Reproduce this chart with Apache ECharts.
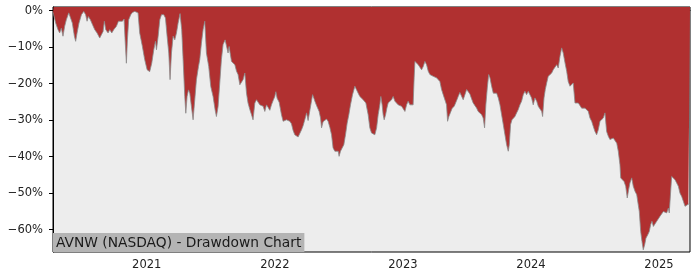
<!DOCTYPE html>
<html>
<head>
<meta charset="utf-8">
<script src="https://cdn.jsdelivr.net/npm/echarts@6/dist/echarts.min.js"></script>
<style>
html,body{margin:0;padding:0;background:#fff;}
#chart{width:700px;height:280px;}
</style>
</head>
<body>
<div id="chart"></div>
<script>
// Time of each point, as decimal years
const dates = [
2020.268,2020.273,2020.289,2020.307,2020.320,2020.333,2020.346,2020.359,2020.372,2020.391,
2020.404,2020.419,2020.435,2020.445,2020.456,2020.471,2020.490,2020.508,2020.523,2020.534,
2020.544,2020.560,2020.576,2020.594,2020.612,2020.633,2020.646,2020.659,2020.669,2020.680,
2020.698,2020.711,2020.727,2020.742,2020.763,2020.779,2020.794,2020.810,2020.823,2020.831,
2020.841,2020.849,2020.859,2020.875,2020.888,2020.906,2020.919,2020.932,2020.945,2020.966,
2020.984,2021.003,2021.023,2021.039,2021.055,2021.068,2021.076,2021.089,2021.102,2021.115,
2021.133,2021.146,2021.159,2021.172,2021.182,2021.193,2021.206,2021.219,2021.232,2021.245,
2021.260,2021.273,2021.284,2021.297,2021.305,2021.315,2021.326,2021.336,2021.349,2021.362,
2021.375,2021.388,2021.404,2021.414,2021.427,2021.440,2021.453,2021.466,2021.484,2021.500,
2021.518,2021.534,2021.544,2021.557,2021.570,2021.583,2021.596,2021.612,2021.622,2021.635,
2021.643,2021.662,2021.688,2021.701,2021.713,2021.727,2021.740,2021.752,2021.766,2021.779,
2021.791,2021.805,2021.818,2021.830,2021.844,2021.857,2021.870,2021.883,2021.909,2021.922,
2021.935,2021.948,2021.961,2021.974,2021.987,2022.000,2022.008,2022.018,2022.034,2022.052,
2022.065,2022.078,2022.091,2022.104,2022.117,2022.130,2022.143,2022.156,2022.170,2022.182,
2022.195,2022.209,2022.221,2022.234,2022.248,2022.260,2022.273,2022.287,2022.295,2022.305,
2022.313,2022.326,2022.338,2022.346,2022.357,2022.365,2022.377,2022.391,2022.404,2022.416,
2022.430,2022.443,2022.455,2022.469,2022.482,2022.495,2022.502,2022.513,2022.526,2022.539,
2022.552,2022.565,2022.578,2022.591,2022.607,2022.625,2022.638,2022.651,2022.664,2022.690,
2022.711,2022.729,2022.742,2022.755,2022.768,2022.781,2022.795,2022.807,2022.820,2022.828,
2022.838,2022.846,2022.854,2022.865,2022.875,2022.885,2022.898,2022.912,2022.924,2022.938,
2022.951,2022.963,2022.977,2022.990,2023.002,2023.016,2023.029,2023.041,2023.055,2023.068,
2023.080,2023.088,2023.094,2023.107,2023.120,2023.133,2023.146,2023.159,2023.172,2023.185,
2023.198,2023.211,2023.224,2023.237,2023.250,2023.263,2023.276,2023.289,2023.302,2023.315,
2023.328,2023.341,2023.349,2023.359,2023.375,2023.385,2023.401,2023.412,2023.422,2023.432,
2023.445,2023.459,2023.471,2023.484,2023.498,2023.510,2023.523,2023.537,2023.549,2023.563,
2023.576,2023.588,2023.602,2023.615,2023.627,2023.638,2023.648,2023.659,2023.670,2023.680,
2023.693,2023.706,2023.719,2023.732,2023.745,2023.758,2023.771,2023.784,2023.797,2023.810,
2023.823,2023.831,2023.841,2023.852,2023.862,2023.875,2023.888,2023.901,2023.914,2023.927,
2023.940,2023.953,2023.966,2023.979,2023.992,2024.005,2024.018,2024.031,2024.045,2024.057,
2024.070,2024.084,2024.091,2024.102,2024.112,2024.123,2024.135,2024.148,2024.162,2024.174,
2024.188,2024.201,2024.213,2024.227,2024.240,2024.252,2024.266,2024.279,2024.291,2024.305,
2024.318,2024.330,2024.344,2024.357,2024.370,2024.383,2024.396,2024.409,2024.422,2024.435,
2024.448,2024.461,2024.474,2024.487,2024.500,2024.513,2024.526,2024.539,2024.552,2024.565,
2024.578,2024.591,2024.604,2024.617,2024.630,2024.643,2024.656,2024.670,2024.682,2024.695,
2024.701,2024.713,2024.727,2024.740,2024.752,2024.763,2024.773,2024.787,2024.799,2024.813,
2024.826,2024.838,2024.846,2024.857,2024.867,2024.877,2024.888,2024.898,2024.912,2024.924,
2024.935,2024.945,2024.956,2024.969,2024.982,2024.995,2025.008,2025.021,2025.034,2025.047,
2025.060,2025.073,2025.080,2025.091,2025.099,2025.112,2025.125,2025.138,2025.151,2025.164,
2025.177,2025.190,2025.203,2025.216,2025.229,2025.242
];
// Drawdown in percent
const drawdown = [
-0.5,-1.1,-3.4,-5.2,-6.1,-4.8,-7.0,-4.3,-2.5,-0.6,
-0.2,-3.4,-7.0,-8.4,-6.1,-3.4,-1.1,-0.2,-1.1,-2.9,
-1.6,-2.5,-3.8,-5.2,-6.1,-7.5,-8.0,-5.7,-2.9,-5.2,
-6.1,-5.2,-6.1,-5.2,-4.3,-2.9,-2.5,-2.9,-2.3,-8.0,
-14.4,-8.0,-2.5,-1.1,-0.5,-0.2,-0.6,-0.6,-6.1,-9.8,
-13.4,-16.2,-16.7,-14.4,-10.7,-8.4,-10.7,-7.0,-2.5,-1.1,
-1.1,-2.0,-7.0,-11.6,-18.9,-11.6,-7.0,-8.0,-6.1,-3.4,
-0.8,-5.2,-13.4,-23.5,-28.1,-23.5,-21.7,-22.6,-26.3,-29.9,
-24.4,-18.9,-15.3,-13.4,-8.9,-5.2,-2.9,-11.6,-15.3,-20.8,
-23.5,-27.2,-29.0,-26.3,-19.9,-13.4,-9.3,-8.0,-8.4,-11.6,
-9.8,-13.9,-14.8,-16.6,-17.5,-20.3,-20.3,-18.9,-17.1,-22.6,
-25.3,-27.1,-28.5,-29.9,-25.3,-24.4,-23.9,-25.8,-26.2,-27.6,
-25.8,-26.5,-27.3,-25.8,-24.6,-23.5,-22.2,-24.0,-25.1,-28.5,
-30.3,-30.5,-29.9,-30.3,-30.3,-31.0,-32.8,-34.0,-33.8,-34.6,
-35.0,-32.6,-31.5,-29.9,-28.0,-30.1,-30.1,-24.6,-23.0,-24.0,
-24.8,-26.0,-26.4,-27.6,-29.4,-32.1,-30.4,-30.1,-29.7,-30.3,
-32.0,-34.0,-37.6,-38.5,-38.1,-38.5,-39.9,-38.5,-38.1,-36.7,
-34.0,-30.8,-28.5,-25.8,-23.0,-20.7,-21.2,-22.6,-23.5,-24.4,
-25.3,-28.5,-32.1,-33.5,-33.1,-34.0,-32.1,-28.5,-25.8,-23.5,
-25.8,-28.5,-29.9,-28.5,-26.7,-25.3,-24.8,-24.4,-23.5,-24.8,
-25.3,-25.8,-25.8,-26.2,-26.7,-27.6,-25.8,-24.8,-25.8,-26.2,
-25.8,-18.4,-13.9,-13.4,-14.8,-14.8,-16.2,-15.3,-13.9,-14.8,
-16.6,-17.5,-17.5,-18.0,-18.0,-18.4,-18.9,-19.4,-21.6,-23.0,
-22.6,-25.8,-30.3,-29.0,-27.6,-26.7,-26.2,-25.8,-24.4,-23.5,
-22.4,-22.0,-24.4,-23.9,-21.6,-22.1,-22.8,-24.2,-25.3,-25.8,
-26.7,-27.6,-28.0,-28.5,-29.4,-32.1,-25.8,-21.2,-17.5,-18.4,
-20.7,-22.6,-22.1,-22.6,-23.9,-25.8,-28.5,-31.2,-34.0,-36.7,
-38.5,-36.7,-31.2,-29.9,-29.9,-29.0,-28.0,-27.1,-25.8,-24.8,
-23.0,-22.1,-23.0,-22.1,-22.6,-23.9,-25.8,-23.9,-24.8,-26.2,
-26.7,-27.6,-29.0,-23.9,-21.6,-19.8,-18.0,-17.5,-17.1,-16.2,
-15.7,-14.8,-15.7,-12.5,-10.2,-11.6,-14.3,-16.6,-19.4,-20.7,
-20.3,-19.8,-25.3,-25.3,-25.3,-25.6,-26.7,-27.1,-26.7,-26.2,
-27.6,-29.4,-30.3,-31.7,-33.1,-34.0,-32.6,-30.3,-29.9,-29.4,
-28.0,-33.1,-34.4,-35.3,-34.9,-34.9,-35.3,-36.3,-38.5,-42.2,
-45.8,-46.3,-46.8,-48.1,-51.3,-49.0,-47.2,-45.8,-48.1,-49.5,
-50.4,-50.9,-55.0,-60.5,-63.2,-65.5,-64.1,-62.3,-61.4,-60.5,
-58.6,-57.7,-59.1,-59.1,-57.7,-57.3,-56.3,-55.9,-55.0,-54.5,
-55.4,-54.1,-55.4,-49.5,-45.4,-45.8,-46.3,-46.8,-48.1,-50.0,
-50.9,-52.2,-53.6,-53.2,-53.0,-53.2
];
const yearTicks = [2021, 2022, 2023, 2024, 2025];
const pctTicks = [0, -10, -20, -30, -40, -50, -60];
const chartTitle = 'AVNW (NASDAQ) - Drawdown Chart';

const seriesData = dates.map((d, i) => [d, drawdown[i]]);

const chart = echarts.init(document.getElementById('chart'), null, {renderer: 'canvas'});
const labelFont = {fontFamily: 'DejaVu Sans', fontSize: 11.5, color: '#222'};
chart.setOption({
  animation: false,
  backgroundColor: '#ffffff',
  grid: {
    left: 53, right: 10, top: 7, bottom: 28,
    show: true, backgroundColor: '#ededed', borderColor: '#000', borderWidth: 1
  },
  title: {
    text: chartTitle,
    left: 53, bottom: 28,
    backgroundColor: '#b4b4b4',
    padding: [3, 3, 2, 3],
    itemGap: 0,
    textStyle: {fontFamily: 'DejaVu Sans', fontSize: 13.8, fontWeight: 'normal', color: '#1a1a1a', lineHeight: 14}
  },
  xAxis: {
    type: 'value',
    min: 2020.268, max: 2025.242,
    axisLine: {show: true, lineStyle: {color: '#000', width: 1}},
    axisTick: {show: true, length: 4, lineStyle: {color: '#000'}, customValues: yearTicks},
    axisLabel: Object.assign({margin: 7, customValues: yearTicks, formatter: v => String(Math.round(v))}, labelFont),
    splitLine: {show: false}
  },
  yAxis: {
    type: 'value',
    min: -66.1, max: 1.0,
    axisLine: {show: true, lineStyle: {color: '#000', width: 1}},
    axisTick: {show: true, length: 4, lineStyle: {color: '#000'}, customValues: pctTicks},
    axisLabel: Object.assign({margin: 10, customValues: pctTicks,
      formatter: v => (Math.round(v) === 0 ? '0%' : '\u2212' + Math.abs(Math.round(v)) + '%')}, labelFont),
    splitLine: {show: false}
  },
  series: [{
    type: 'line',
    data: seriesData,
    showSymbol: false,
    symbol: 'none',
    lineStyle: {color: '#8a8a8a', width: 0.8},
    areaStyle: {color: '#b03030', opacity: 1, origin: 'end'},
    z: 2
  }]
});
</script>
</body>
</html>
